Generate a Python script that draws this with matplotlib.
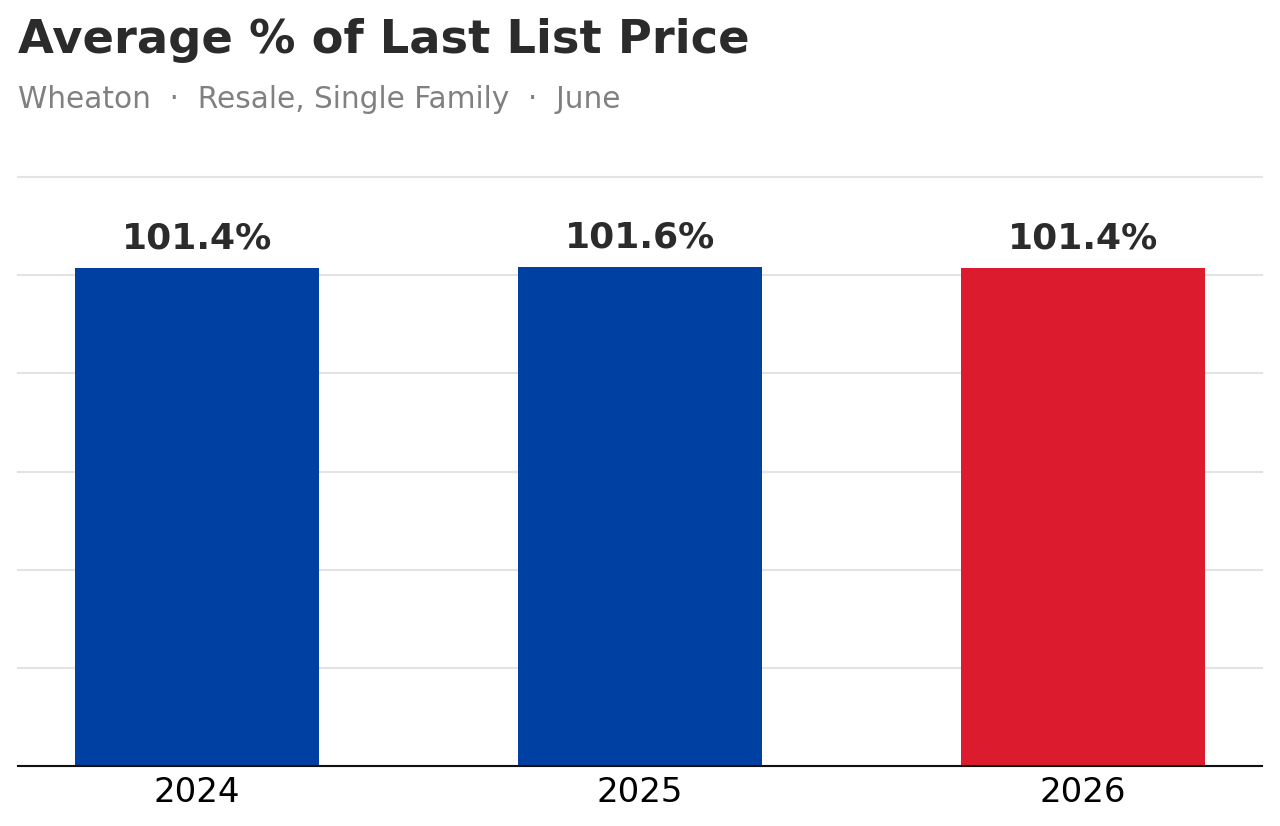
import matplotlib
matplotlib.use("Agg")
import matplotlib.pyplot as plt

plt.rcParams["font.family"] = ["DejaVu Sans"]

years = ["2024", "2025", "2026"]
values = [101.4, 101.6, 101.4]
labels = ["101.4%", "101.6%", "101.4%"]
colors = ["#0040a3", "#0040a3", "#dc1c2e"]


def draw():
	fig = plt.figure(figsize=(12.8, 8.26), dpi=100)
	ax = fig.add_axes([0.014, 0.0726, 0.972, 0.7131])

	x = range(len(years))
	ax.bar(x, values, width=0.55, color=colors, zorder=2)
	for i, v in enumerate(values):
		ax.text(i, v + 2.6, labels[i], ha="center", va="bottom",
			fontsize=26, fontweight="bold", color="#2b2b2b")

	ax.set_ylim(0, 120)
	ax.set_xlim(-0.405, 2.405)
	ax.set_yticks(range(0, 121, 20))
	ax.yaxis.grid(True, color="#e3e3e3", linewidth=1.5, zorder=0)
	for gl in ax.get_ygridlines():
		gl.set_clip_on(False)
	ax.set_axisbelow(True)
	ax.tick_params(axis="y", left=False, labelleft=False)
	ax.set_xticks(list(x))
	ax.set_xticklabels(years, fontsize=24.5)
	ax.tick_params(axis="x", length=0, pad=7)
	for s in ["top", "right", "left"]:
		ax.spines[s].set_visible(False)
	ax.spines["bottom"].set_color("#111111")
	ax.spines["bottom"].set_linewidth(1.5)
	ax.spines["bottom"].set_zorder(3)

	fig.text(0.014, 0.951, "Average % of Last List Price", fontsize=33.4,
		fontweight="bold", color="#2b2b2b", va="center", ha="left")
	fig.text(0.014, 0.879, "Wheaton  ·  Resale, Single Family  ·  June",
		fontsize=21.3, color="#808080", va="center", ha="left")

	fig.savefig("out.png", dpi=100)


def main():
	draw()


if __name__ == "__main__":
	main()
